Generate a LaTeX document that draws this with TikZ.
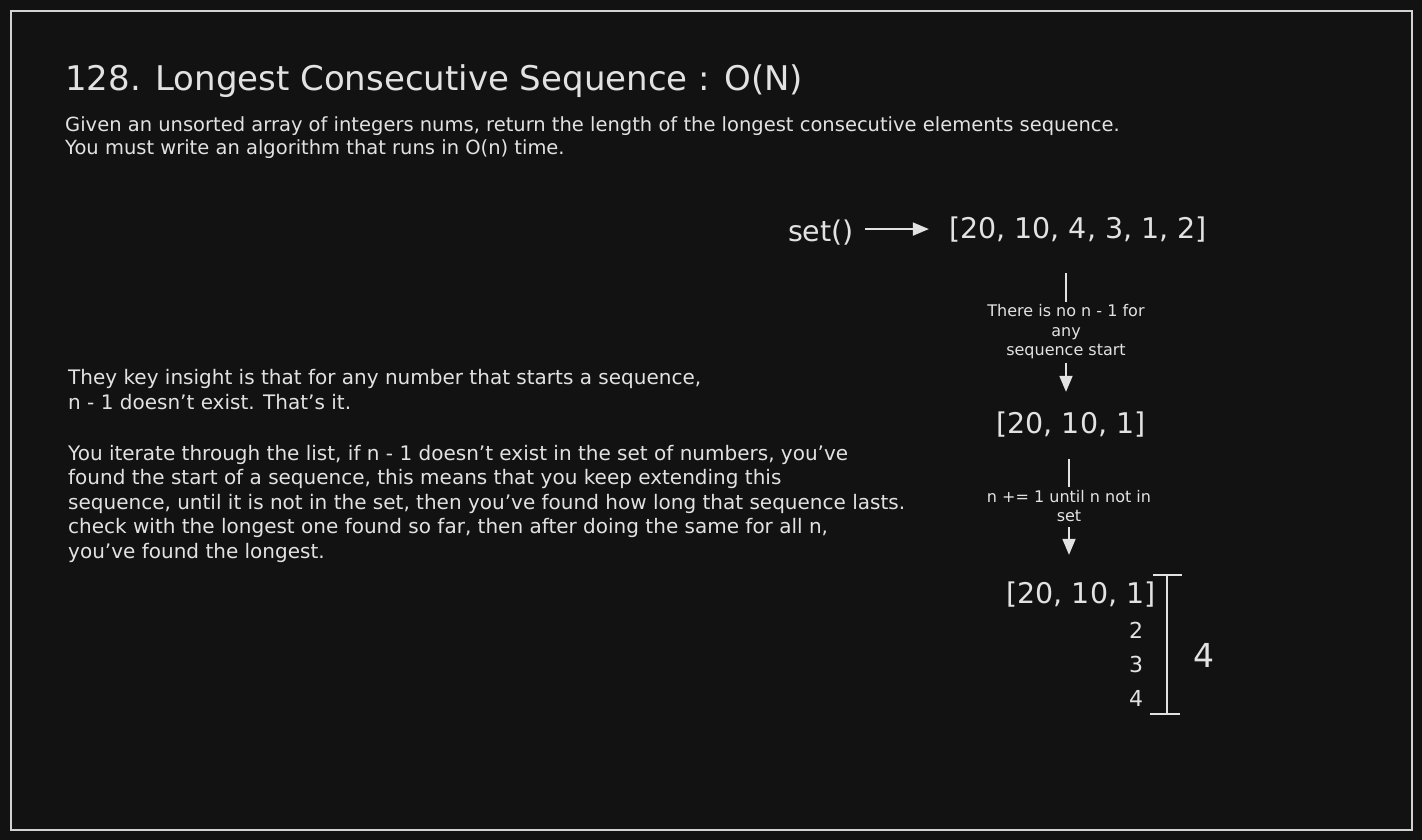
\documentclass[tikz,border=0pt]{standalone}
\usepackage{fontspec}
\setmainfont{DejaVu Sans}
\usetikzlibrary{arrows.meta,positioning,calc}
\definecolor{boardbg}{HTML}{121212}
\definecolor{chalk}{HTML}{E2E2E2}
\definecolor{framegray}{HTML}{D2D2D2}

\begin{document}
\begin{tikzpicture}[x=1pt,y=-1pt,
  every node/.style={text=chalk,inner sep=0pt},
  flow/.style={-{Triangle[length=16pt,width=13pt]},line width=1.8pt,chalk},
  wire/.style={line width=1.8pt,chalk},
  note/.style={font=\fontsize{16}{19.5}\selectfont,align=center},
  lst/.style={font=\fontsize{28.5}{32}\selectfont,anchor=base},
  para/.style={font=\fontsize{20}{24.5}\selectfont,align=left,anchor=base west}]
% board and frame
\fill[boardbg] (0,0) rectangle (1422,840);
\useasboundingbox (0,0) rectangle (1422,840);
\draw[framegray,line width=2.4pt] (11,11) rectangle (1412,830);

% heading (base of a multi-line node = its last line)
\node[anchor=base west,font=\fontsize{34}{38}\selectfont] (title) at (65,91) {128. Longest Consecutive Sequence : O(N)};
\node[anchor=base west,align=left,font=\fontsize{19.5}{23}\selectfont] (prompt) at (65,155)
  {Given an unsorted array of integers nums, return the length of the longest consecutive elements sequence.\\
   You must write an algorithm that runs in O(n) time.};

% explanation
\node[para] (insight) at (68,409) {They key insight is that for any number that starts a sequence,\\
  n - 1 doesn't exist. That's it.};
\node[para] (method) at (68,558) {You iterate through the list, if n - 1 doesn't exist in the set of numbers, you've\\
  found the start of a sequence, this means that you keep extending this\\
  sequence, until it is not in the set, then you've found how long that sequence lasts.\\
  check with the longest one found so far, then after doing the same for all n,\\
  you've found the longest.};

% flow on the right
\node[lst] (setfn) at (821,241) {set()};
\node[lst] (lst1) at (1078,238) {[20, 10, 4, 3, 1, 2]};
\node[lst] (lst2) at (1071,433) {[20, 10, 1]};
\node[lst] (lst3) at (1081,603) {[20, 10, 1]};
\node[note] (noteA) at (1066,332) {There is no n - 1 for\\any\\sequence start};
\node[note] (noteB) at (1069,506) {n += 1 until n not in\\set};

\draw[flow,shorten <=11pt,shorten >=20pt] ([yshift=3pt]setfn.east) -- ([yshift=3pt]setfn.east -| lst1.west);
\draw[wire,shorten <=31.3pt,shorten >=2.8pt] (lst1.south -| noteA.north) -- (noteA.north);
\draw[flow,shorten <=3.2pt,shorten >=19.3pt] (noteA.south) -- (lst2.north -| noteA.south);
\draw[wire,shorten <=22.3pt,shorten >=2.8pt] (lst2.south -| noteB.north) -- (noteB.north);
\draw[flow,shorten <=5pt,shorten >=26.3pt] (noteB.south) -- (lst3.north -| noteB.south);

% the run 2, 3, 4 and its length
\foreach \d/\yy in {2/638,3/672,4/706}
  \node[anchor=base,font=\fontsize{22}{26}\selectfont] (run\d) at (1136,\yy) {\d};
\draw[wire,line width=1.5pt] (1153,575) -- (1182,575) (1167,575) -- (1167,714) (1150,714) -- (1180,714);
\node[anchor=base,font=\fontsize{33}{38}\selectfont] (runlen) at (1204,667) {4};
\end{tikzpicture}
\end{document}
